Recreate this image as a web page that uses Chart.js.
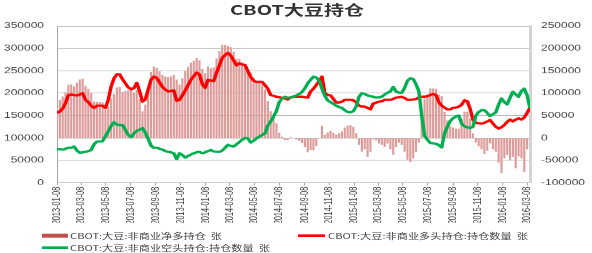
<!DOCTYPE html>
<html><head><meta charset="utf-8">
<script src="https://cdn.jsdelivr.net/npm/chart.js@4/dist/chart.umd.min.js"></script>
<style>
html,body{margin:0;padding:0;background:#fff;overflow:hidden;width:592px;height:253px}
#wrap{position:absolute;left:0;top:0;width:592px;height:380px;transform:scaleY(0.665789);transform-origin:0 0;}
#c{position:absolute;left:0;top:0}
#title{position:absolute;left:0;width:594px;top:3px;text-align:center;font:bold 20px "Noto Sans CJK SC";line-height:24px;color:#333;}
.lg{position:absolute;font:11.2px "Noto Sans CJK SC";color:#404040;white-space:pre;line-height:14px}
.sw{position:absolute;}
</style></head>
<body>
<div id="wrap">
<canvas id="c" width="592" height="380" style="width:592px;height:380px"></canvas>
<div id="title">CBOT大豆持仓</div>
<div class="sw" style="left:42px;top:351px;width:26px;height:6px;background:#c0504d"></div>
<div class="lg" style="left:70px;top:347px">CBOT:大豆:非商业净多持仓  张</div>
<div class="sw" style="left:298px;top:352px;width:27px;height:4px;background:#ff0000"></div>
<div class="lg" style="left:328px;top:347px">CBOT:大豆:非商业多头持仓:持仓数量  张</div>
<div class="sw" style="left:42px;top:370px;width:26px;height:4px;background:#00b050"></div>
<div class="lg" style="left:70px;top:365px">CBOT:大豆:非商业空头持仓:持仓数量  张</div>
</div>
<script>
// Weekly observations starting on this date (one value per week)
const startDate = '2013-01-08';
const tickLabels = ['2013-01-08','2013-03-08','2013-05-08','2013-07-08','2013-09-08','2013-11-08',
  '2014-01-08','2014-03-08','2014-05-08','2014-07-08','2014-09-08','2014-11-08',
  '2015-01-08','2015-03-08','2015-05-08','2015-07-08','2015-09-08','2015-11-08',
  '2016-01-08','2016-03-08'];
const leftTicks = [0,50000,100000,150000,200000,250000,300000,350000];
const rightTicks = [-100000,-50000,0,50000,100000,150000,200000,250000];

// 非商业多头持仓
const longPos = [
156000,159000,166000,178000,196000,197000,196000,195000,197000,200000,
185000,180000,172000,167000,172000,172000,172000,167000,185000,215000,
233000,242000,242000,231000,222000,213000,209000,211000,223000,204000,
181000,186000,208000,230000,237000,234000,224000,214000,208000,204000,
205000,206000,183000,185000,195000,206000,218000,230000,238000,246000,
242000,220000,212000,230000,228000,227000,246000,262000,279000,285000,
290000,284000,273000,262000,267000,264000,263000,249000,236000,228000,
225000,225000,225000,218000,210000,196000,194000,192000,191000,190000,
188000,186000,191000,192000,192000,192000,192000,191000,190000,204000,
210000,218000,227000,237000,200000,196000,195000,187000,179000,179000,
181000,185000,185000,185000,184000,180000,172000,170000,170000,167000,
164000,177000,179000,181000,182000,185000,185000,185000,187000,190000,
191000,192000,189000,185000,185000,186000,187000,190000,192000,192000,
193000,196000,198000,196000,180000,172000,168000,164000,164000,167000,
168000,170000,174000,184000,182000,165000,140000,134000,133000,132000,
134000,137000,140000,132000,125000,121000,124000,129000,136000,141000,
137000,141000,144000,141000,146000,156000,168000];

// 非商业空头持仓
const shortPos = [
76000,75000,74000,76000,78000,78000,81000,72000,67000,68000,
69000,71000,73000,86000,92000,92000,93000,104000,115000,127000,
135000,130000,129000,129000,118000,107000,102000,110000,116000,118000,
122000,112000,98000,83000,78000,78000,76000,74000,71000,69000,
68000,66000,53000,66000,62000,56000,60000,63000,66000,68000,
69000,66000,68000,71000,73000,70000,69000,69000,72000,78000,
85000,82000,81000,86000,91000,96000,100000,99000,90000,94000,
99000,103000,107000,110000,128000,137000,148000,160000,180000,188000,
192000,190000,190000,192000,195000,198000,203000,211000,222000,230000,
237000,235000,228000,210000,194000,184000,180000,176000,172000,169000,
167000,162000,158000,157000,160000,170000,192000,200000,198000,195000,
193000,192000,190000,191000,192000,197000,201000,204000,214000,204000,
201000,201000,212000,228000,233000,232000,220000,204000,150000,105000,
96000,89000,88000,87000,84000,79000,110000,125000,138000,144000,
148000,150000,132000,126000,124000,122000,125000,150000,158000,162000,
162000,156000,149000,153000,157000,175000,188000,180000,175000,190000,
203000,197000,192000,205000,210000,195000,167000];

// 非商业净多持仓
const netLong = [
80000,84000,92000,102000,118000,119000,115000,123000,130000,132000,
116000,109000,99000,81000,80000,80000,79000,63000,70000,88000,
98000,112000,113000,102000,104000,106000,107000,101000,107000,86000,
59000,74000,110000,147000,159000,156000,148000,140000,137000,135000,
137000,140000,130000,119000,133000,150000,158000,167000,172000,178000,
173000,154000,144000,159000,155000,157000,177000,193000,207000,207000,
205000,202000,192000,176000,176000,168000,163000,150000,146000,134000,
126000,122000,118000,108000,82000,59000,46000,32000,11000,2000,
-4000,-4000,1000,0,-3000,-6000,-11000,-20000,-31000,-26000,
-27000,-17000,-1000,27000,6000,12000,15000,11000,7000,10000,
14000,23000,27000,28000,24000,10000,-15000,-30000,-25000,-42000,
-30000,-3000,-5000,-12000,-15000,-20000,-12000,-25000,-37000,-20000,
-10000,-15000,-30000,-48000,-53000,-45000,-30000,-10000,42000,87000,
97000,110000,110000,109000,96000,93000,58000,39000,26000,23000,
20000,20000,42000,58000,58000,43000,10000,-10000,-18000,-25000,
-35000,-28000,-12000,-25000,-30000,-55000,-78000,-45000,-38000,-50000,
-42000,-67000,-40000,-45000,-75000,-25000,0];

const DAY = 86400000;
const t0 = Date.parse(startDate);
const tickDays = tickLabels.map(s => Math.round((Date.parse(s) - t0) / DAY));
const pts = arr => arr.map((v, i) => ({x: i * 7, y: v}));
const lastDay = (longPos.length - 1) * 7;

new Chart(document.getElementById('c'), {
  type: 'line',
  data: {
    datasets: [
      {type:'bar', label:'CBOT:大豆:非商业净多持仓', data: pts(netLong), yAxisID:'y1',
       backgroundColor:'#dc9c9a', barThickness:1.5, order:3},
      {type:'line', label:'CBOT:大豆:非商业多头持仓:持仓数量', data: pts(longPos), yAxisID:'y',
       borderColor:'#ff0000', borderWidth:3.5, pointRadius:0, tension:0, borderJoinStyle:'round', order:2},
      {type:'line', label:'CBOT:大豆:非商业空头持仓:持仓数量', data: pts(shortPos), yAxisID:'y',
       borderColor:'#00b050', borderWidth:3.5, pointRadius:0, tension:0, borderJoinStyle:'round', order:1}
    ]
  },
  options: {
    responsive:false, animation:false,
    layout:{padding:{top:39, bottom:45.5, left:0, right:0}},
    plugins:{legend:{display:false}, title:{display:false}, tooltip:{enabled:false}},
    scales:{
      x:{type:'linear', min:0, max:lastDay, offset:false,
         afterBuildTicks: s => { s.ticks = tickDays.map(v => ({value:v})); },
         afterFit: s => { s.height = 60; },
         ticks:{autoSkip:false, minRotation:90, maxRotation:90, padding:2,
                font:{family:'Liberation Sans', size:11}, color:'#404040',
                callback:(v, i) => tickLabels[i]},
         grid:{drawOnChartArea:false, drawTicks:true, tickLength:4, color:'#a6a6a6', offset:false},
         border:{color:'#a6a6a6'}},
      y:{position:'left', min:0, max:350000,
         afterBuildTicks: s => { s.ticks = leftTicks.map(v => ({value:v})); },
         afterFit: s => { s.width = 57; },
         ticks:{padding:13, font:{family:'Liberation Sans', size:12}, color:'#404040', callback:v => String(v)},
         grid:{color:'#b3b3b3', drawTicks:false},
         border:{color:'#a6a6a6'}},
      y1:{position:'right', min:-100000, max:250000,
         afterBuildTicks: s => { s.ticks = rightTicks.map(v => ({value:v})); },
         afterFit: s => { s.width = 62; },
         ticks:{padding:11, font:{family:'Liberation Sans', size:12}, color:'#404040', callback:v => String(v)},
         grid:{drawOnChartArea:false, drawTicks:false},
         border:{color:'#d4d4d4', width:3}}
    }
  }
});
</script>
</body></html>
